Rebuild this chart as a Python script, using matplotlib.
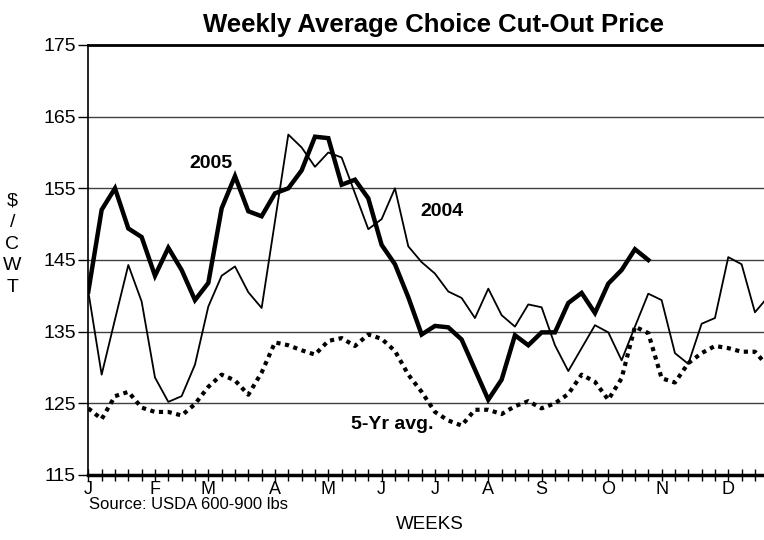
"""Weekly average choice cut-out price: 2005 vs 2004 vs 5-year average."""

import matplotlib

matplotlib.use("Agg")
import matplotlib.pyplot as plt
from matplotlib.ticker import FixedLocator, MultipleLocator

# week index 0..51, values in $/cwt
PRICE_2005 = [
    140.6, 152.0, 155.0, 149.4, 148.2, 142.8, 146.7, 143.6, 139.4, 141.8,
    152.2, 156.7, 151.8, 151.1, 154.3, 155.0, 157.5, 162.2, 162.0, 155.5,
    156.2, 153.6, 147.1, 144.4, 139.8, 134.6, 135.8, 135.6, 133.9, 129.7,
    125.5, 128.3, 134.5, 133.1, 134.9, 134.9, 139.0, 140.4, 137.6, 141.7,
    143.6, 146.5, 145.0,
]
PRICE_2004 = [
    140.6, 129.0, 136.7, 144.3, 139.2, 128.6, 125.2, 126.0, 130.4, 138.5,
    142.8, 144.1, 140.5, 138.3, 150.4, 162.5, 160.7, 158.0, 160.0, 159.3,
    154.3, 149.3, 150.7, 155.0, 146.9, 144.7, 143.1, 140.6, 139.7, 136.9,
    141.0, 137.3, 135.7, 138.8, 138.4, 133.1, 129.5, 132.7, 135.9, 134.9,
    131.0, 135.7, 140.3, 139.4, 132.0, 130.5, 136.1, 136.9, 145.4, 144.4,
    137.7, 139.9,
]
PRICE_5YR = [
    124.3, 122.8, 126.0, 126.6, 124.4, 123.8, 123.8, 123.3, 124.9, 127.3,
    129.0, 128.2, 126.2, 129.3, 133.5, 133.1, 132.4, 131.8, 133.7, 134.1,
    133.0, 134.6, 134.0, 132.3, 129.0, 126.6, 123.8, 122.6, 121.9, 124.1,
    124.1, 123.5, 124.6, 125.3, 124.3, 125.0, 126.3, 129.0, 128.0, 125.5,
    128.5, 135.7, 134.8, 128.5, 127.9, 130.6, 132.0, 133.0, 132.7, 132.2,
    132.2, 130.1,
]
MONTHS = ["J", "F", "M", "A", "M", "J", "J", "A", "S", "O", "N", "D"]
MONTH_WEEKS = [0, 5, 9, 14, 18, 22, 26, 30, 34, 39, 43, 48]
Y_TICKS = [115, 125, 135, 145, 155, 165, 175]


def main() -> None:
    plt.rcParams["font.family"] = ["Liberation Sans", "DejaVu Sans"]

    fig = plt.figure(figsize=(7.64, 5.4), dpi=100)
    ax = fig.add_axes([0.1156, 0.1204, 0.890, 0.7963])

    for y in Y_TICKS[1:-1]:
        ax.axhline(y, color="#404040", lw=1.0, zorder=1)

    weeks_all = list(range(len(PRICE_2004)))
    ax.plot(weeks_all, PRICE_5YR, color="black", lw=3.0,
            linestyle=(0, (1, 1.1)), dash_capstyle="butt", zorder=2)
    ax.plot(weeks_all, PRICE_2004, color="black", lw=1.3, zorder=3)
    ax.plot(range(len(PRICE_2005)), PRICE_2005, color="black", lw=3.2,
            solid_joinstyle="miter", zorder=4)

    ax.set_xlim(0, 51)
    ax.set_ylim(115, 175)
    ax.set_yticks(Y_TICKS)
    ax.tick_params(axis="y", direction="out", length=7, width=1,
                   labelsize=14, pad=2)

    ax.xaxis.set_major_locator(FixedLocator(MONTH_WEEKS))
    ax.set_xticklabels(MONTHS)
    ax.xaxis.set_minor_locator(MultipleLocator(1))
    ax.tick_params(axis="x", which="both", direction="inout", length=8,
                   width=1, labelsize=13, pad=0)

    ax.spines["right"].set_visible(False)
    ax.spines["top"].set_linewidth(2.0)
    ax.spines["bottom"].set_linewidth(2.5)
    ax.spines["left"].set_linewidth(1.2)

    ax.text(9.2, 158.5, "2005", fontsize=14, fontweight="bold",
            ha="center", va="center")
    ax.text(26.5, 151.7, "2004", fontsize=14, fontweight="bold",
            ha="center", va="center")
    ax.text(22.8, 122.1, "5-Yr avg.", fontsize=14, fontweight="bold",
            ha="center", va="center")

    fig.text(0.568, 0.953, "Weekly Average Choice Cut-Out Price",
             fontsize=18.5, fontweight="bold", ha="center", va="center")
    fig.text(0.016, 0.548, "$\n/\nC\nW\nT", fontsize=14, ha="center",
             va="center", linespacing=1.36)
    fig.text(0.116, 0.066, "Source: USDA 600-900 lbs", fontsize=12,
             ha="left", va="center")
    fig.text(0.562, 0.029, "WEEKS", fontsize=13.5, ha="center", va="center")

    fig.savefig("out.png", dpi=100)
    plt.close(fig)


if __name__ == "__main__":
    main()
